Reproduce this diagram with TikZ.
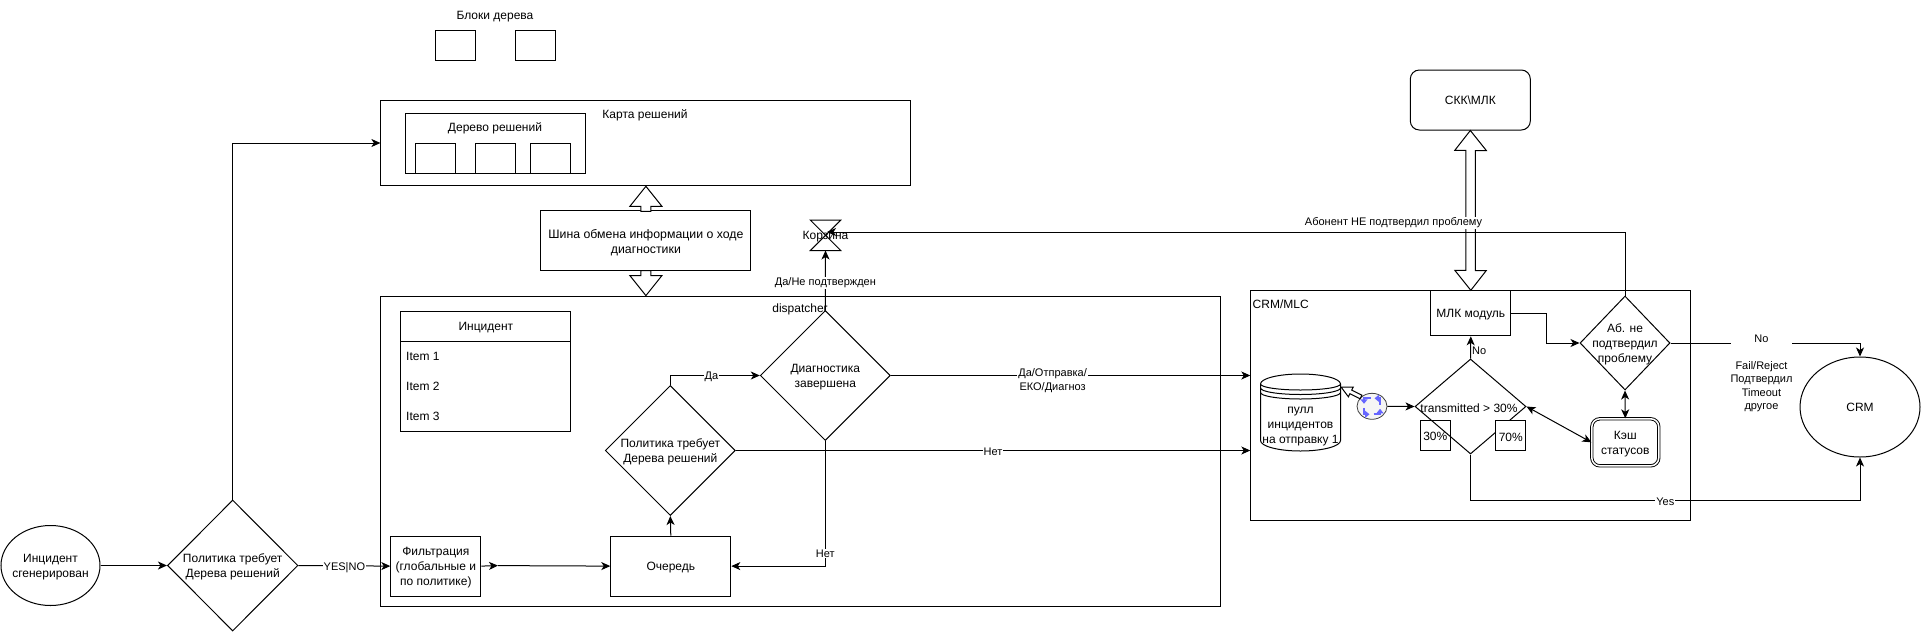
\documentclass[tikz,border=0pt]{standalone}
\usepackage{fontspec}
\setmainfont{Liberation Sans}
\usetikzlibrary{arrows.meta,shapes.geometric,shapes.misc,positioning,calc}
\definecolor{routerblue}{HTML}{6666FF}
\tikzset{
  >={Stealth[length=9pt,width=8pt,inset=2.5pt]},
  every node/.style={font=\fontsize{12}{15}\selectfont,align=center},
  every label/.style={font=\fontsize{12}{15}\selectfont,align=center,yshift=-1.5pt},
  box/.style={draw,fill=white,line width=1pt,inner sep=0pt,anchor=north west},
  dia/.style={draw,diamond,aspect=1,inner sep=0pt,line width=1pt},
  conn/.style={->,line width=1pt},
  plainline/.style={line width=1pt},
  lbl/.style={fill=white,inner sep=1pt,yshift=-1.5pt,font=\fontsize{11}{13.4}\selectfont},
  txt/.style={inner sep=0pt},
  block/.style={draw,fill=white,line width=1pt},
}
\newcommand{\bx}[5]{\node[box,minimum width=#4,minimum height=#5] (#1) at (#2,#3) {};}
\begin{document}
\begin{tikzpicture}[x=1pt,y=-1pt]
\useasboundingbox (0,0) rectangle (1921,632);
% containers
\node[box,minimum width=530,minimum height=85] (map) at (380.4,100.3) {};
\node[box,minimum width=840,minimum height=310] (disp) at (380.4,295.6) {};
\node[box,minimum width=440,minimum height=230] (crmmlc) at (1250.3,290.3) {};
% top
\node[txt] (blockstitle) at (495,17) {Блоки дерева};
\bx{ba}{435.4}{30.3}{40}{30}
\bx{bb}{515.4}{30.3}{40}{30}
\node[txt] (maptitle) at (645,115) {Карта решений};
\bx{tree}{405.4}{113}{180}{60}
\node[txt] (treetitle) at (495,128) {Дерево решений};
\bx{ta}{415.4}{143}{40}{30}
\bx{tb}{475.4}{143}{40}{30}
\bx{tc}{530.4}{143}{40}{30}
% bus
\node[box,minimum width=210,minimum height=60,label={[font=\fontsize{12.3}{15}\selectfont]center:{Шина обмена информации о ходе\\диагностики}}] (bus) at (540.4,210.3) {};
\draw[block] (map.south -| bus.north) -- ++(16,20) -- ++(-11,0) -- ++(0,5) -- ++(-10,0) -- ++(0,-5) -- ++(-11,0) -- cycle;
\draw[block] (disp.north -| bus.south) -- ++(16,-20) -- ++(-11,0) -- ++(0,-5) -- ++(-10,0) -- ++(0,5) -- ++(-11,0) -- cycle;
% left flow
\node[draw,ellipse,line width=1pt,minimum width=99,minimum height=80,inner sep=0pt,label=center:{Инцидент\\сгенерирован}] (inc) at (50.5,565.5) {};
\node[dia,minimum width=130.5,minimum height=131,label=center:{Политика требует\\Дерева решений}] (pol1) at (232.7,565.5) {};
\node[box,minimum width=90,minimum height=60,label=center:{Фильтрация\\(глобальные и\\по политике)}] (filt) at (390.3,535.6) {};
\node[box,minimum width=120,minimum height=60,label=center:{Очередь}] (queue) at (610.3,535.6) {};
\node[dia,minimum width=130,minimum height=130,label=center:{Политика требует\\Дерева решений}] (pol2) at (670.3,450.5) {};
\node[dia,minimum width=130,minimum height=130,label=center:{Диагностика\\завершена}] (diag) at (825.3,375.5) {};
% table
\node[box,minimum width=170,minimum height=120] (tbl) at (400.4,310.6) {};
\node[box,minimum width=170,minimum height=30,label=center:{Инцидент}] (tblh) at (400.4,310.6) {};
\node[txt,anchor=west] (i1) at (406,356.5) {Item 1};
\node[txt,anchor=west] (i2) at (406,386.5) {Item 2};
\node[txt,anchor=west] (i3) at (406,416.5) {Item 3};
\node[txt] (disptitle) at (800,309) {dispatcher};
% basket
\node[inner sep=0pt,minimum width=30,minimum height=30,label=center:{Корзина}] (korz) at (825.5,235.3) {};
\draw[plainline] (korz.north west) -- (korz.north east) -- (korz.south west) -- (korz.south east) -- cycle;
\coordinate (korzin) at (827,232);
% flow arrows
\draw[conn] (inc.east) -- (pol1.west);
\draw[conn] (pol1.east) -- node[lbl]{YES|NO} (filt.west);
\coordinate (filtout) at (498,565.6);
\draw[conn] (filt.east) -- (filtout);
\draw[conn] (filtout) -- (queue.west);
\draw[conn] (pol1.north) |- (map.west |- 0,143);
\draw[conn] (queue.north) -- (pol2.south);
\draw[conn] (pol2.north) |- node[lbl,pos=.73]{Да} (diag.west);
\draw[conn] (diag.south) |- node[lbl,pos=.444]{Нет} (queue.east);
\draw[conn] (diag.north) -- node[lbl,pos=.48]{Да/Не подтвержден} (korz.south);
\draw[conn] (diag.east) -- node[lbl,pos=.45,yshift=-3.5pt]{Да/Отправка/\\ЕКО/Диагноз} (diag.east -| crmmlc.west);
\draw[conn] (pol2.east) -- node[lbl,pos=.5]{Нет} (pol2.east -| crmmlc.west);
% right group
\node[draw,rounded corners=9pt,line width=1pt,minimum width=120,minimum height=60,inner sep=0pt] (skk) at (1470.3,100) {СКК\textbackslash МЛК};
\node[box,minimum width=80,minimum height=45,label=center:{МЛК модуль}] (mlk) at (1430.3,290.3) {};
\draw[block] (skk.south) -- ++(16,20) -- ++(-11,0) -- ++(0,120) -- ++(11,0) -- (mlk.north) -- ++(-16,-20) -- ++(11,0) -- ++(0,-120) -- ++(-11,0) -- cycle;
\node[txt,anchor=west] (crmtitle) at (1252.5,304) {CRM/MLC};
\node[box,minimum width=30,minimum height=30] (p30) at (1420.3,420.3) {};
\node[dia,minimum width=111,minimum height=95,label={[xshift=-1.5pt]center:{transmitted > 30\%}}] (trans) at (1470.5,406.5) {};
\node[txt] (p30t) at (1435.3,436) {30\%};
\node[box,minimum width=30,minimum height=30,label=center:{70\%}] (p70) at (1495.3,420.3) {};
\node[dia,minimum width=90,minimum height=94,label=center:{Аб. не\\подтвердил\\проблему}] (ab) at (1625,343) {};
\node[draw,double,double distance=1.5pt,fill=white,rounded corners=8pt,line width=.9pt,minimum width=67,minimum height=47,inner sep=0pt,label=center:{Кэш\\статусов}] (cache) at (1625.3,442.3) {};
% datastore
\coordinate (ds) at (1300.5,374);
\draw[plainline,fill=white] (ds) ++(-40,10) arc[start angle=180,end angle=360,x radius=40,y radius=10]
  -- ++(0,56.5) arc[start angle=0,end angle=180,x radius=40,y radius=10.5] -- cycle;
\draw[plainline] (ds) ++(-40,10) arc[start angle=180,end angle=0,x radius=40,y radius=6];
\draw[plainline] (ds) ++(-40,14) arc[start angle=180,end angle=0,x radius=40,y radius=6.5];
\draw[plainline] (ds) ++(-40,18.5) arc[start angle=180,end angle=0,x radius=40,y radius=6.5];
\node[txt] (dst) at (1300.5,427) {пулл\\инцидентов\\на отправку 1};
% router
\node[draw=black!75,fill=black!4,ellipse,line width=.8pt,minimum width=30,minimum height=26,inner sep=0pt] (rt) at (1372,406.3) {};
\foreach \r in {0,90,180,270}{
  \begin{scope}[shift={(rt.center)},rotate=\r]
  \draw[color=routerblue,line width=2pt,-{Triangle[length=4.5pt,width=7pt]}] (-1.5,-8) -- (-8,-8) -- (-8,-2.5);
  \end{scope}
}
\coordinate (dstip) at (1341,387);
\draw[block] (dstip) -- (1353.3,387) -- (1351.7,390.1) -- (1361.9,395.2) -- (1360.1,398.8) -- (1349.9,393.7) -- (1348.4,396.8) -- cycle;
\draw[conn] (rt.east) -- (trans.west);
\draw[conn] (trans.north) -- node[pos=.33,right=1pt,txt,font=\fontsize{11}{13}\selectfont]{No} (mlk.south);
\draw[conn] (mlk.east) -- ++(35.5,0) |- (ab.west);
\draw[conn,<->] (ab.south) -- (cache.north);
\draw[conn,<->] (trans.east) -- (cache.west);
\draw[plainline,->] (ab.north) |- node[lbl,pos=.645,yshift=10.5pt]{Абонент НЕ подтвердил проблему} (korzin);
% CRM
\node[draw,ellipse,line width=1pt,minimum width=120,minimum height=100,inner sep=0pt] (crm) at (1860,407) {CRM};
\draw[conn] (ab.east) -- node[lbl,pos=.48,anchor=north,yshift=10pt,inner sep=0pt]{No\\\phantom{x}\\Fail/Reject\\Подтвердил\\Timeout\\другое} (ab.east -| crm.north) -- (crm.north);
\draw[conn] (trans.south) |- node[lbl,pos=.75]{Yes} (crm.south |- 0,500.4) -- (crm.south);
\end{tikzpicture}
\end{document}
